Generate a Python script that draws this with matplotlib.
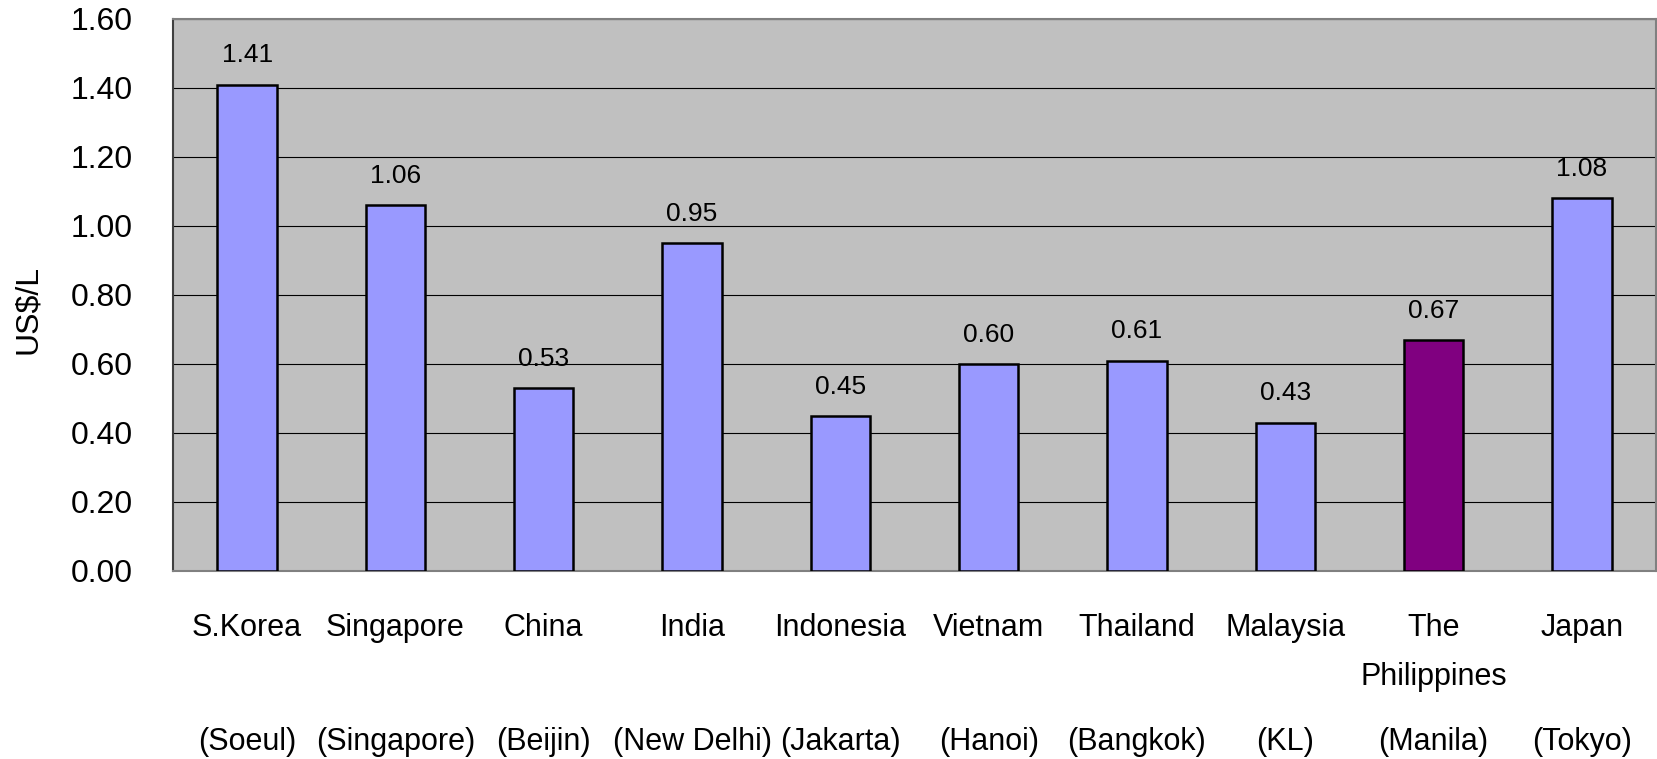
import matplotlib
matplotlib.use('Agg')
import matplotlib.pyplot as plt
import matplotlib.transforms as mtransforms

# Prezzo carburante per città (US$/L)
countries = ['S.Korea', 'Singapore', 'China', 'India', 'Indonesia', 'Vietnam',
             'Thailand', 'Malaysia', 'The\nPhilippines', 'Japan']
cities = ['(Soeul)', '(Singapore)', '(Beijin)', '(New Delhi)', '(Jakarta)',
          '(Hanoi)', '(Bangkok)', '(KL)', '(Manila)', '(Tokyo)']
prices = [1.41, 1.06, 0.53, 0.95, 0.45, 0.60, 0.61, 0.43, 0.67, 1.08]
highlight = 'The\nPhilippines'

BAR_COLOR = '#9999FF'
HIGHLIGHT_COLOR = '#800080'
PLOT_BG = '#C0C0C0'

plt.rcParams['font.family'] = ['Liberation Sans', 'DejaVu Sans']

fig = plt.figure(figsize=(16.57, 7.59), dpi=100, facecolor='white')
ax = fig.add_axes([0.1044, 0.2477, 0.895, 0.7273])
ax.set_facecolor(PLOT_BG)

x = list(range(len(countries)))
colors = [HIGHLIGHT_COLOR if c == highlight else BAR_COLOR for c in countries]
ax.bar(x, prices, width=0.40, color=colors, edgecolor='black', linewidth=1.8, zorder=3)

# etichette dei valori sopra le barre
for xi, v in zip(x, prices):
    ax.annotate(f'{v:.2f}', (xi, v), xytext=(0, 21), textcoords='offset points',
                ha='center', va='center', fontsize=19, color='black')

ax.set_xlim(-0.5, len(countries) - 0.5)
ax.set_ylim(0, 1.6)
ax.set_yticks([i * 0.2 for i in range(9)])
ax.set_yticklabels([f'{i * 0.2:.2f}' for i in range(9)], fontsize=23)
ax.tick_params(axis='y', length=0, pad=29)
ax.set_xticks([])
ax.grid(axis='y', color='black', linewidth=0.8, zorder=1)
ax.set_axisbelow(True)

for side in ['top', 'right', 'bottom']:
    ax.spines[side].set_color('#808080')
    ax.spines[side].set_linewidth(1.5)
ax.spines['left'].set_color('#404040')
ax.spines['left'].set_linewidth(1.5)

# nomi dei paesi e delle città sotto l'asse
trans = mtransforms.blended_transform_factory(ax.transData, ax.transAxes)
for xi, name, city in zip(x, countries, cities):
    ax.text(xi, -0.076, name, transform=trans, ha='center', va='top',
            fontsize=22, linespacing=1.85)
    ax.text(xi, -0.324, city, transform=trans, ha='center', va='baseline',
            fontsize=22)

fig.text(28 / 1657, 1 - 309 / 759, 'US$/L', rotation=90, ha='center', va='center',
         fontsize=23)

plt.savefig('out.png', dpi=100, facecolor='white')
